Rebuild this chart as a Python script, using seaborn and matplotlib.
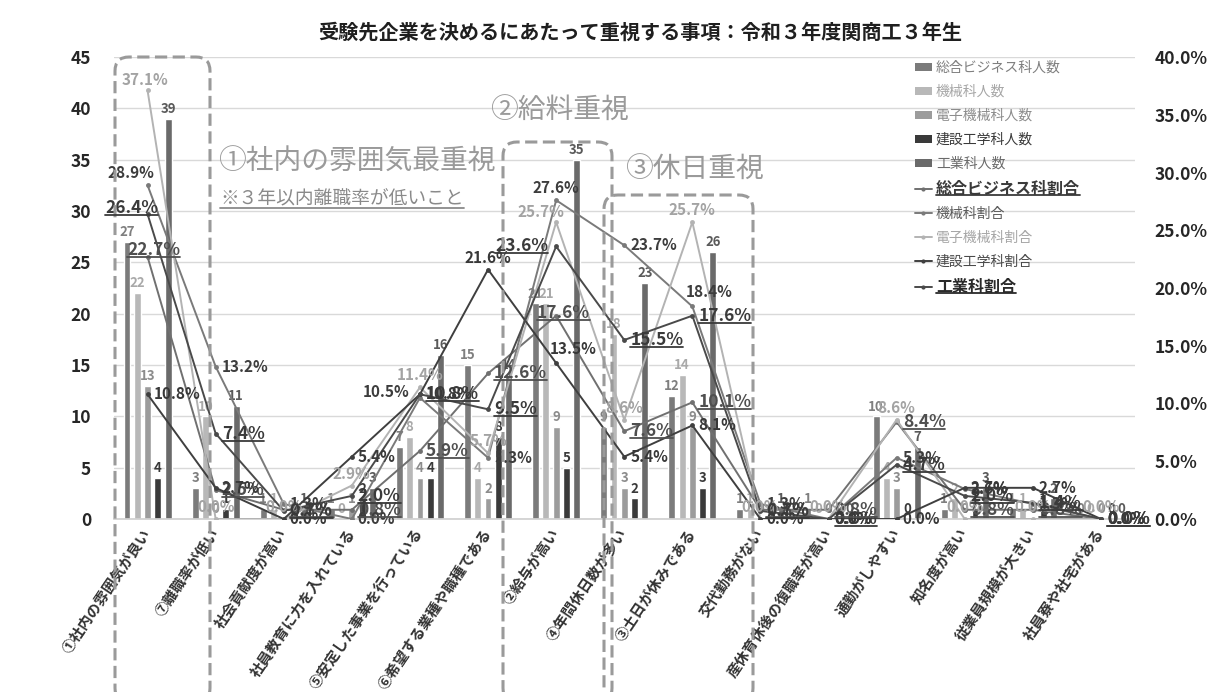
import numpy as np
import pandas as pd
import matplotlib
matplotlib.use("Agg")
import matplotlib.pyplot as plt
import seaborn as sns
from matplotlib.patches import FancyBboxPatch, Patch
from matplotlib.lines import Line2D
from matplotlib.transforms import Affine2D

# ---- data -------------------------------------------------------------
categories = [
    "①社内の雰囲気が良い", "⑦離職率が低い", "社会貢献度が高い", "社員教育に力を入れている",
    "⑤安定した事業を行っている", "⑥希望する業種や職種である", "②給与が高い", "④年間休日数が多い",
    "③土日が休みである", "交代勤務がない", "産休育休後の復職率が高い", "通勤がしやすい",
    "知名度が高い", "従業員規模が大きい", "社員寮や社宅がある",
]

count_names = ["総合ビジネス科人数", "機械科人数", "電子機械科人数", "建設工学科人数", "工業科人数"]
business_n = [27, 3, 1, 1, 7, 15, 21, 9, 12, 1, 1, 10, 1, 1, 0]
mechanical_n = [22, 10, 1, 0, 8, 4, 21, 18, 14, 1, 0, 4, 2, 1, 0]
electro_mech_n = [13, 0, 0, 1, 4, 2, 9, 3, 9, 0, 0, 3, 0, 0, 0]
civil_n = [4, 1, 0, 2, 4, 8, 5, 2, 3, 0, 0, 0, 1, 1, 0]
industrial_n = [39, 11, 1, 3, 16, 14, 35, 23, 26, 1, 0, 7, 3, 2, 0]

rate_names = ["総合ビジネス科割合", "機械科割合", "電子機械科割合", "建設工学科割合", "工業科割合"]
business_pct = [22.7, 2.5, 0.8, 0.8, 5.9, 12.6, 17.6, 7.6, 10.1, 0.8, 0.8, 8.4, 0.8, 0.8, 0.0]
mechanical_pct = [28.9, 13.2, 1.3, 0.0, 10.5, 5.3, 27.6, 23.7, 18.4, 1.3, 0.0, 5.3, 2.6, 1.3, 0.0]
electro_mech_pct = [37.1, 0.0, 0.0, 2.9, 11.4, 5.7, 25.7, 8.6, 25.7, 0.0, 0.0, 8.6, 0.0, 0.0, 0.0]
civil_pct = [10.8, 2.7, 0.0, 5.4, 10.8, 21.6, 13.5, 5.4, 8.1, 0.0, 0.0, 0.0, 2.7, 2.7, 0.0]
industrial_pct = [26.4, 7.4, 0.7, 2.0, 10.8, 9.5, 23.6, 15.5, 17.6, 0.7, 0.0, 4.7, 2.0, 1.4, 0.0]

title = "受験先企業を決めるにあたって重視する事項：令和３年度関商工３年生"

counts = [business_n, mechanical_n, electro_mech_n, civil_n, industrial_n]
rates = [business_pct, mechanical_pct, electro_mech_pct, civil_pct, industrial_pct]

# ---- styles -------------------------------------------------------------
bar_colors = ["#7b7b7b", "#b8b8b8", "#9c9c9c", "#3a3a3a", "#6a6a6a"]
bar_label_colors = ["#7f7f7f", "#a9a9a9", "#8c8c8c", "#3a3a3a", "#5a5a5a"]
line_colors = ["#707070", "#7a7a7a", "#b3b3b3", "#3f3f3f", "#4a4a4a"]
rate_label_colors = ["#4f4f4f", "#3d3d3d", "#a3a3a3", "#383838", "#3a3a3a"]
rate_label_sizes = [12.5, 11, 11, 11, 12.5]
rate_underlined = [True, False, False, False, True]
# default label placement per series: (dx px, dy px, ha)
rate_label_pos = [(6, 0, "left"), (6, 0, "left"), (0, 12, "center"), (6, 0, "left"), (6, 0, "left")]
# individual label placements
rate_label_override = {
    (4, 0): (-16, 6, "center"),
    (0, 0): (6, 7, "center"),
    (1, 0): (-17, 12, "center"),
    (2, 0): (-3, 10, "center"),
    (1, 6): (0, 12, "center"),
    (2, 6): (-15, 10, "center"),
    (4, 6): (-8, 0, "right"),
    (0, 6): (7, 3, "center"),
    (3, 5): (0, 12, "center"),
    (1, 4): (-10, 6, "right"),
    (1, 8): (-7, 14, "left"),
    (3, 6): (-6, 14, "left"),
}

W, H = 1212, 692
sns.set_theme(style="white")
plt.rcParams["font.family"] = ["Noto Sans CJK JP", "DejaVu Sans"]

fig = plt.figure(figsize=(W / 100, H / 100), dpi=100)
fig.subplots_adjust(left=113.5 / W, right=1135 / W, bottom=1 - 519 / H, top=1 - 57 / H)
ax = fig.add_subplot(111)

# ---- bars (counts, left axis) ----------------------------------------------
rows = []
for name, vals in zip(count_names, counts):
    for cat, v in zip(categories, vals):
        rows.append({"項目": cat, "学科": name, "人数": v})
df = pd.DataFrame(rows)

sns.barplot(data=df, x="項目", y="人数", hue="学科", order=categories, hue_order=count_names,
            palette=bar_colors, saturation=1, width=0.754, gap=0.33, legend=False, ax=ax)

for cont, c in zip(ax.containers, bar_label_colors):
    ax.bar_label(cont, fmt="%d", padding=2, fontsize=9.5, fontweight="bold", color=c)

ax.set_ylim(0, 45)
ax.set_yticks(range(0, 46, 5))
ax.yaxis.grid(True, color="#d9d9d9", lw=1)
ax.xaxis.grid(False)
for s in ["left", "right", "top"]:
    ax.spines[s].set_visible(False)
ax.spines["bottom"].set_color("#d0d0d0")
ax.set_xlabel("")
ax.set_ylabel("")
ax.tick_params(axis="y", length=0, pad=16, labelsize=12.5, labelcolor="#262626")
for t in ax.get_yticklabels():
    t.set_fontweight("bold")
ax.set_xticks(range(len(categories)))
ax.set_xticklabels(categories, rotation=56, ha="right", va="center", rotation_mode="anchor",
                   fontsize=10.5, fontweight="bold", color="#333333")
ax.tick_params(axis="x", length=0, pad=8)

# ---- lines (rates, right axis) ---------------------------------------------
ax2 = ax.twinx()
xs = np.arange(len(categories))
for vals, c in zip(rates, line_colors):
    sns.lineplot(x=xs, y=vals, ax=ax2, color=c, linewidth=1.4, marker="o",
                 markersize=3.5, markeredgewidth=0)
ax2.set_ylim(0, 40)
ax2.set_yticks(np.arange(0, 41, 5))
ax2.set_yticklabels([f"{v:.1f}%" for v in np.arange(0, 41, 5)])
ax2.tick_params(axis="y", length=0, pad=14, labelsize=12.5, labelcolor="#262626")
for t in ax2.get_yticklabels():
    t.set_fontweight("bold")
ax2.grid(False)
for s in ax2.spines.values():
    s.set_visible(False)
ax2.set_ylabel("")
ax.set_xlim(-0.5, len(categories) - 0.5)

underline_texts = []
for si, vals in enumerate(rates):
    for i, v in enumerate(vals):
        dx, dy, ha = rate_label_override.get((si, i), rate_label_pos[si])
        t = ax2.annotate(f"{v:.1f}%", xy=(i, v), xytext=(dx, dy), textcoords="offset pixels",
                         ha=ha, va="center", fontsize=rate_label_sizes[si], fontweight="bold",
                         color=rate_label_colors[si], annotation_clip=False)
        if rate_underlined[si]:
            underline_texts.append(t)

# ---- title & callouts ------------------------------------------------------
fig.text(640 / W, 1 - 32 / H, title, ha="center", va="center", fontsize=14.5,
         fontweight="bold", color="#1f1f1f")

callout_color = "#9a9a9a"
fig.text(218 / W, 1 - 162 / H, "①社内の雰囲気最重視", ha="left", va="center",
         fontsize=20, color=callout_color)
note = fig.text(220 / W, 1 - 199 / H, "※３年以内離職率が低いこと", ha="left", va="center",
                fontsize=13.5, color="#8a8a8a")
underline_texts.append(note)
fig.text(490 / W, 1 - 111 / H, "②給料重視", ha="left", va="center", fontsize=20, color=callout_color)
fig.text(625 / W, 1 - 170 / H, "③休日重視", ha="left", va="center", fontsize=20, color=callout_color)

px = Affine2D().scale(1 / W, 1 / H) + fig.transFigure


def dashed_box(x0, y0, x1, y1):
    box = FancyBboxPatch((x0, H - y1), x1 - x0, y1 - y0,
                         boxstyle="round,pad=0,rounding_size=14", transform=px,
                         fill=False, ls=(0, (4, 1.8)), lw=2.2, ec="#9a9a9a", clip_on=False)
    fig.add_artist(box)


dashed_box(115, 57, 210, 702)
dashed_box(503, 142, 612, 702)
dashed_box(604, 195, 753, 702)

# ---- legend ---------------------------------------------------------------
handles = [Patch(facecolor=c, edgecolor="none") for c in bar_colors]
handles += [Line2D([0], [0], color=c, lw=1.4, marker="o", markersize=3, markeredgewidth=0)
            for c in line_colors]
leg = fig.legend(handles, count_names + rate_names, loc="upper left",
                 bbox_to_anchor=(915 / W, 1 - 61 / H), frameon=False, fontsize=10,
                 handlelength=1.2, handleheight=0.55, handletextpad=0.3, labelspacing=0.72,
                 borderaxespad=0, borderpad=0)
legend_text_colors = ["#7f7f7f", "#a6a6a6", "#8c8c8c", "#3a3a3a", "#6a6a6a",
                      "#3a3a3a", "#5a5a5a", "#a6a6a6", "#4a4a4a", "#2a2a2a"]
for k, (t, c) in enumerate(zip(leg.get_texts(), legend_text_colors)):
    t.set_color(c)
    if k in (5, 9):
        t.set_fontweight("bold")
        t.set_fontsize(11.5)
        underline_texts.append(t)

# ---- underlines ------------------------------------------------------------
fig.canvas.draw()
renderer = fig.canvas.get_renderer()
inv = fig.transFigure.inverted()
for t in underline_texts:
    bb = t.get_window_extent(renderer)
    (fx0, fy), (fx1, _) = inv.transform([(bb.x0, bb.y0 + 2), (bb.x1, bb.y0 + 2)])
    fig.add_artist(Line2D([fx0, fx1], [fy, fy], transform=fig.transFigure,
                          color=t.get_color(), lw=1.3))

fig.savefig("out.png", dpi=100)
